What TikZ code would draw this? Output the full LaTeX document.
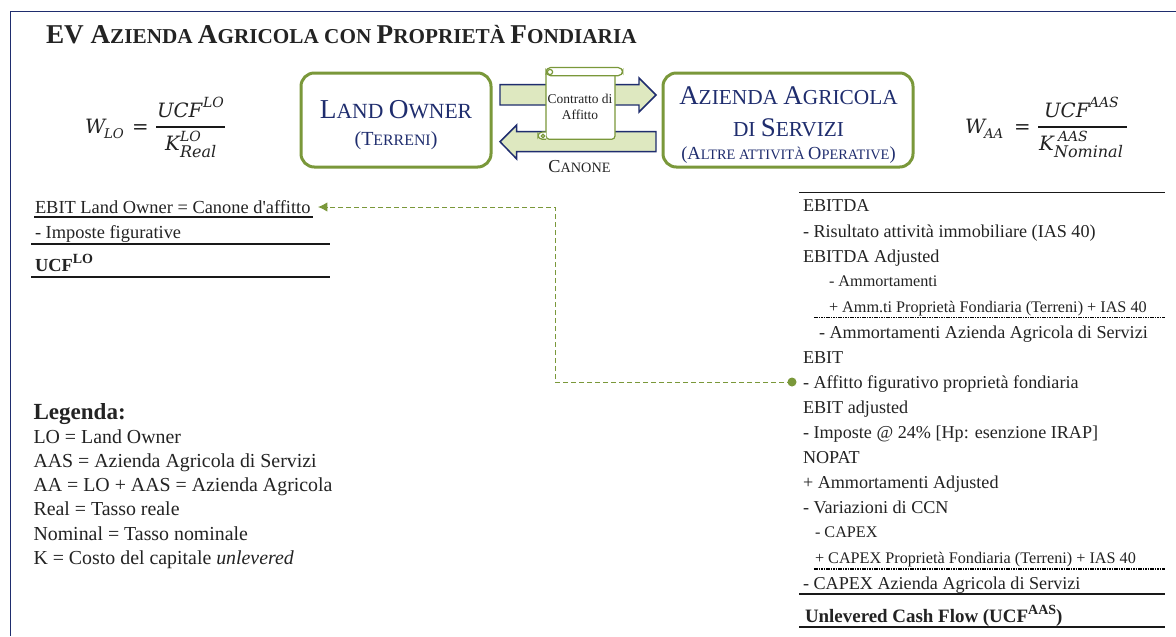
\documentclass[tikz,border=0pt]{standalone}
\usepackage{fontspec}
\setmainfont{Liberation Serif}[Ligatures=ResetAll]
\newfontfamily\mfont{DejaVu Serif}
\newfontfamily\aposf{Liberation Serif}
\usetikzlibrary{arrows.meta}
\definecolor{navy}{RGB}{31,45,110}
\definecolor{oliveg}{RGB}{122,152,58}
\definecolor{paleg}{RGB}{222,232,192}
\definecolor{ink}{RGB}{35,35,35}
\newcommand{\fs}[1]{\fontsize{#1}{#1}\selectfont}
\newcommand{\capsm}[4]{{\fs{#1}#3{\fs{#2}#4}}}
\tikzset{
  x=0.75pt,y=-0.75pt,
  txt/.style={anchor=base west,inner sep=0pt,outer sep=0pt,text=ink,font=\fs{13.6}},
  lbl/.style={txt,font=\fs{13.8}},
  leg/.style={txt,font=\fs{14.9}},
  small/.style={txt,font=\fs{12.15}},
  rule/.style={draw=black!90,line width=1.1pt},
  dashrule/.style={draw=black,line width=1pt,dash pattern=on 1.2pt off 0.6pt},
  band/.style={draw=navy,fill=paleg,line width=1.1pt,line join=miter},
  scrollp/.style={draw=oliveg,line width=0.9pt,fill=white},
  mbig/.style={anchor=base west,inner sep=0pt,outer sep=0pt,text=ink,font=\mfont\itshape\fs{14.8}},
  msup/.style={mbig,font=\mfont\itshape\fs{10.5}},
  msub/.style={mbig,font=\mfont\itshape\fs{12}},
  conn/.style={draw=oliveg,line width=0.7pt,dash pattern=on 3.6pt off 2.4pt},
  greenbox/.style={draw=oliveg,line width=2.25pt,fill=white,rounded corners=10pt},
}
\begin{document}
\begin{tikzpicture}
\useasboundingbox (0,0) rectangle (1176,636);
\fill[white] (0,0) rectangle (1176,636);
% frame
\coordinate (fa) at (10.5,636); \coordinate (fb) at (10.5,11.5); \coordinate (fc) at (1176,11.5);
\draw[navy,line width=1pt] (fa) -- (fb) -- (fc);
% title
\node[txt,font=\bfseries] (title) at (46,43) {\capsm{20.4}{15.9}{EV A}{ZIENDA }\capsm{20.4}{15.9}{A}{GRICOLA CON }\capsm{20.4}{15.9}{P}{ROPRIETÀ }\capsm{20.4}{15.9}{F}{ONDIARIA}};
% green boxes
\draw[greenbox] (301,73) rectangle (491,167);
\draw[greenbox] (663,73) rectangle (913,167);
\node[anchor=base,inner sep=0pt,text=navy] (lot) at (396,118) {\capsm{20.5}{16.2}{L}{AND }\capsm{20.5}{16.2}{O}{WNER}};
\node[anchor=base,inner sep=0pt,text=navy] (lot2) at (396,145) {\capsm{15}{11.9}{(T}{ERRENI}\capsm{15}{11.9}{)}{}};
\node[anchor=base,inner sep=0pt,text=navy] (aa1) at (788.5,104) {\capsm{20.2}{16}{A}{ZIENDA }\capsm{20.2}{16}{A}{GRICOLA}};
\node[anchor=base,inner sep=0pt,text=navy] (aa2) at (788.5,136) {\capsm{20.2}{16}{}{DI }\capsm{20.2}{16}{S}{ERVIZI}};
\node[anchor=base,inner sep=0pt,text=navy] (aa3) at (788.5,159) {\capsm{13.8}{10.8}{(A}{LTRE ATTIVITÀ }\capsm{13.8}{10.8}{O}{PERATIVE}\capsm{13.8}{10.8}{)}{}};
% arrows
\draw[band] (500,84.7) -- (639,84.7) -- (639,78) -- (656,95) -- (639,112) -- (639,105) -- (500,105) -- cycle;
\draw[band] (656,131.7) -- (516.7,131.7) -- (516.7,125) -- (500,141.7) -- (516.7,159) -- (516.7,151.7) -- (656,151.7) -- cycle;
% scroll
\draw[scrollp,rounded corners=2.5pt] (546,71) -- (546,139.3) -- (615,139.3) -- (615,71) -- cycle;
\draw[scrollp,rounded corners=3.5pt] (546,67.5) rectangle (622.7,75.7);
\draw[scrollp,fill=white] (550,72) circle (2.6);
\draw[scrollp,rounded corners=3.2pt] (546,132) -- (538,132) -- (538,139.3) -- (546,139.3);
\draw[scrollp] (543,136) circle (1.8);
\node[anchor=base,inner sep=0pt,text=ink,font=\fs{10.1}] (ct1) at (580,103) {Contratto di};
\node[anchor=base,inner sep=0pt,text=ink,font=\fs{10.1}] (ct2) at (580,119) {Affitto};
\node[anchor=base,inner sep=0pt,text=ink] (can) at (579.5,172) {\capsm{13.7}{10.7}{C}{ANONE}};
% formula left
\node[mbig] (w1) at (85,133) {W};
\node[msup,font=\mfont\itshape\fs{10}] (w1s) at (104,138.5) {LO};
\node[mbig,font=\mfont\fs{14.8}] (w1e) at (132,133) {=};
\node[mbig] (n1) at (157,117) {UCF};
\node[msup] (n1s) at (203,107) {LO};
\coordinate (b1a) at (156,127); \coordinate (b1b) at (225,127);
\draw[black!90,line width=1.1pt] (b1a) -- (b1b);
\node[mbig] (d1) at (165,150) {K};
\node[msup] (d1t) at (180,141) {LO};
\node[msub] (d1s) at (180,157) {Real};
% formula right
\node[mbig] (w2) at (965,133) {W};
\node[msup,font=\mfont\itshape\fs{10}] (w2s) at (984,138.5) {AA};
\node[mbig,font=\mfont\fs{14.8}] (w2e) at (1014,133) {=};
\node[mbig] (n2) at (1044,117) {UCF};
\node[msup] (n2s) at (1089,107) {AAS};
\coordinate (b2a) at (1038,127); \coordinate (b2b) at (1127,127);
\draw[black!90,line width=1.1pt] (b2a) -- (b2b);
\node[mbig] (d2) at (1039,150) {K};
\node[msup] (d2t) at (1058,141) {AAS};
\node[msub] (d2s) at (1054,157) {Nominal};
% left table
\node[lbl] (l1) at (35,213) {EBIT Land Owner = Canone d{\aposf '}affitto};
\coordinate (r1a) at (34,217); \coordinate (r1b) at (313,217);
\draw[rule] (r1a) -- (r1b);
\node[lbl] (l2) at (35,238) {- Imposte figurative};
\coordinate (r2a) at (31,244); \coordinate (r2b) at (330,244);
\draw[rule] (r2a) -- (r2b);
\node[lbl,font=\fs{13.8}\bfseries] (l3) at (35,271) {UCF\raisebox{5.5pt}{\fs{10.5}LO}};
\coordinate (r3a) at (31,277); \coordinate (r3b) at (330,277);
\draw[rule] (r3a) -- (r3b);
% legend
\node[leg,font=\fs{17.3}\bfseries] (lg) at (33.5,419) {Legenda:};
\node[leg] (g1) at (33.5,443) {LO = Land Owner};
\node[leg] (g2) at (33.5,467.5) {AAS = Azienda Agricola di Servizi};
\node[leg] (g3) at (33.5,491.5) {AA = LO + AAS = Azienda Agricola};
\node[leg] (g4) at (33.5,515.5) {Real = Tasso reale};
\node[leg] (g5) at (33.5,540) {Nominal = Tasso nominale};
\node[leg] (g6) at (33.5,564) {K = Costo del capitale \textit{unlevered}};
% right table
\coordinate (t0a) at (799,192.7); \coordinate (t0b) at (1165,192.7);
\draw[rule] (t0a) -- (t0b);
\node[txt] (q1) at (803,211.5) {EBITDA};
\node[txt] (q2) at (803,237.5) {- Risultato attività immobiliare (IAS 40)};
\node[txt] (q3) at (803,262) {EBITDA Adjusted};
\node[small] (q4) at (829,286) {- Ammortamenti};
\node[small] (q5) at (829,312) {+ Amm.ti Proprietà Fondiaria (Terreni) + IAS 40};
\coordinate (t1a) at (814,317.5); \coordinate (t1b) at (1165,317.5);
\draw[dashrule] (t1a) -- (t1b);
\node[txt] (q6) at (819,338) {- Ammortamenti Azienda Agricola di Servizi};
\node[txt] (q7) at (803,363) {EBIT};
\node[txt] (af) at (803,388) {- Affitto figurativo proprietà fondiaria};
\node[txt] (q9) at (803,413) {EBIT adjusted};
\node[txt] (q10) at (803,438) {- Imposte @ 24\% [Hp: esenzione IRAP]};
\node[txt] (q11) at (803,463) {NOPAT};
\node[txt] (q12) at (803,488) {+ Ammortamenti Adjusted};
\node[txt] (q13) at (803,513) {- Variazioni di CCN};
\node[small] (q14) at (815,537) {- CAPEX};
\node[small] (q15) at (815,563) {+ CAPEX Proprietà Fondiaria (Terreni) + IAS 40};
\coordinate (t2a) at (814,569); \coordinate (t2b) at (1165,569);
\draw[dashrule] (t2a) -- (t2b);
\node[txt] (q16) at (803,589) {- CAPEX Azienda Agricola di Servizi};
\coordinate (t3a) at (799,594); \coordinate (t3b) at (1165,594);
\draw[rule] (t3a) -- (t3b);
\node[txt,font=\fs{14.2}\bfseries] (q17) at (805,622) {Unlevered Cash Flow (UCF\raisebox{5.5pt}{\fs{10.5}AAS})};
\coordinate (t4a) at (799,627); \coordinate (t4b) at (1165,627);
\draw[rule] (t4a) -- (t4b);
% connector
\coordinate (cs) at (792,382);
\coordinate (ce) at (318,207);
\draw[conn,-{Latex[length=7pt,width=7pt,fill=oliveg]}] (cs) -- (555,382) -- (555,207) -- (ce);
\fill[oliveg] (cs) circle (4.5);
\end{tikzpicture}
\end{document}
